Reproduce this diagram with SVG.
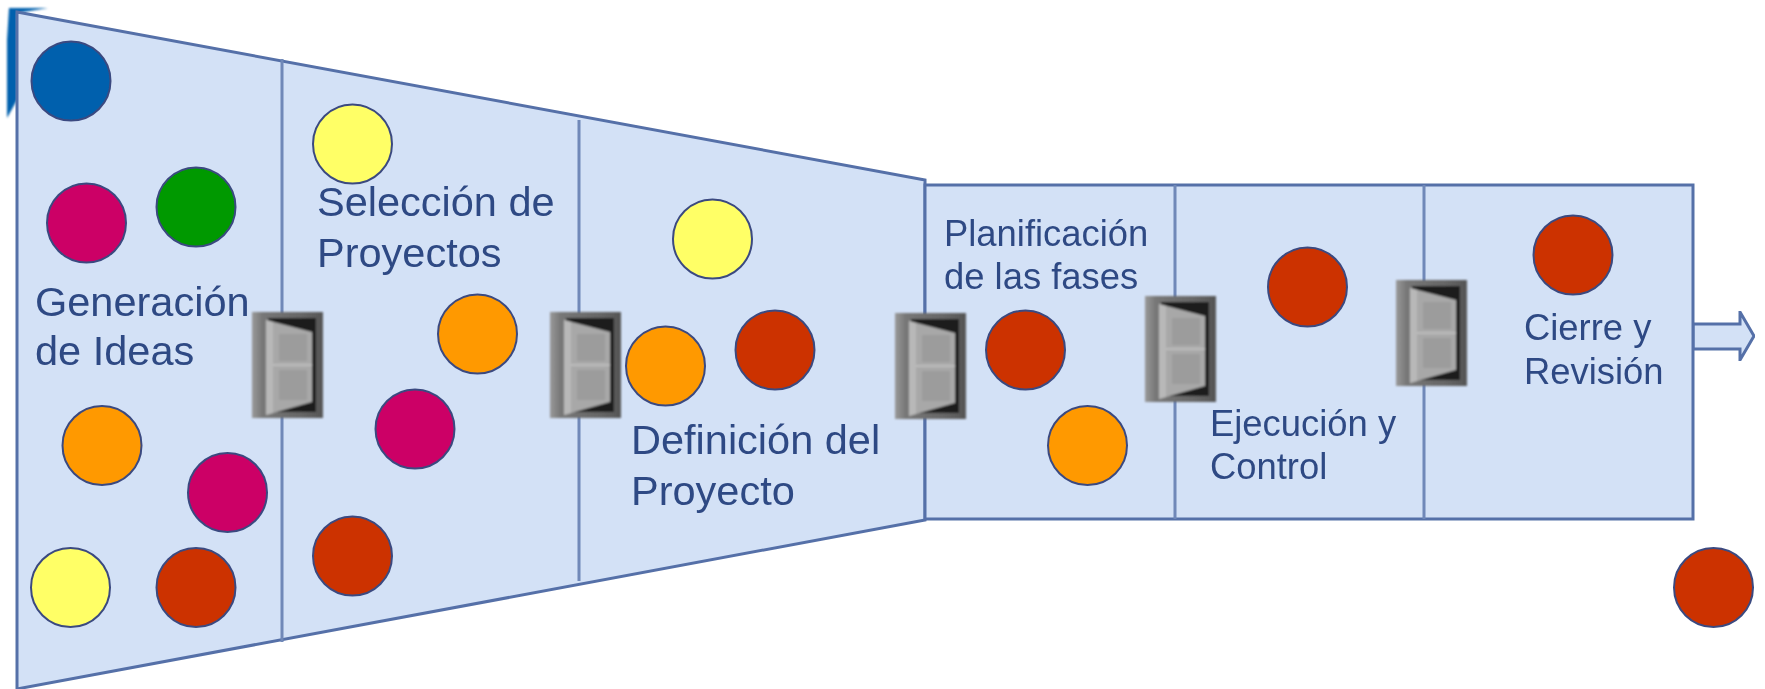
<svg xmlns="http://www.w3.org/2000/svg" width="1765" height="689" viewBox="0 0 1765 689">
<style>
.shape{fill:#d3e1f6;stroke:#5570a8;stroke-width:3}
.div{fill:none;stroke:#6f88b8;stroke-width:3}
.c{stroke:#3b4a80;stroke-width:2}
.t{font-family:"Liberation Sans",Arial,sans-serif;font-size:41.5px;fill:#2f4a84}
.t2{font-family:"Liberation Sans",Arial,sans-serif;font-size:36.4px;fill:#2f4a84}
.y{fill:#ffff66}.r{fill:#cc3300}.o{fill:#ff9900}.m{fill:#cc0066}.g{fill:#009900}.b{fill:#0060ad}
</style>
<defs>
<linearGradient id="fr" x1="0" x2="1" y1="0" y2="0"><stop offset="0" stop-color="#999"/><stop offset="0.15" stop-color="#777"/><stop offset="0.7" stop-color="#666"/><stop offset="1" stop-color="#555"/></linearGradient>
<filter id="soft" x="-5%" y="-5%" width="110%" height="110%"><feGaussianBlur stdDeviation="1.2"/></filter>
<filter id="lite" x="-1%" y="-1%" width="102%" height="102%"><feGaussianBlur stdDeviation="0.5"/></filter>
<g id="door" filter="url(#soft)">
<rect width="71" height="106" fill="url(#fr)"/>
<rect x="16" y="6" width="48" height="94" fill="#1c1c1c"/>
<path d="M14 8L60 20L60 90L14 103Z" fill="#a8a8a8"/>
<path d="M14 8L21 10L21 101L14 103Z" fill="#b8b8b8"/>
<path d="M21 53L60 53" stroke="#bdbdbd" stroke-width="2" fill="none"/>
<rect x="27" y="22" width="28" height="27" fill="#9c9c9c"/>
<rect x="27" y="58" width="28" height="30" fill="#9c9c9c"/>
</g>
</defs>
<path d="M9 8L48 8L17 13L17 100L7 118L7 40Z" fill="#0060ad" filter="url(#soft)"/>
<g id="connectors" filter="url(#lite)">
<path id="arrow" d="M1693 324H1740V312L1754 336L1740 360V349H1693Z" class="shape"/>
</g>
<g id="funnel" filter="url(#lite)">
<path d="M17 12L925 180V520L17 689Z" class="shape"/>
<path d="M925 185H1693V519H925Z" class="shape"/>
<path d="M282 59V642M579 120V581M1175 185V519M1424 185V519" class="div"/>
</g>
<g id="labels" filter="url(#lite)">
<g id="n-generacion"><text class="t" x="35" y="316">Generación</text><text class="t" x="35" y="365">de Ideas</text></g>
<g id="n-seleccion"><text class="t" x="317" y="216">Selección de</text><text class="t" x="317" y="267">Proyectos</text></g>
<g id="n-definicion"><text class="t" x="631" y="454">Definición del</text><text class="t" x="631" y="505">Proyecto</text></g>
<g id="n-planificacion"><text class="t2" x="944" y="246">Planificación</text><text class="t2" x="944" y="289">de las fases</text></g>
<g id="n-ejecucion"><text class="t2" x="1210" y="436">Ejecución y</text><text class="t2" x="1210" y="479">Control</text></g>
<g id="n-cierre"><text class="t2" x="1524" y="340">Cierre y</text><text class="t2" x="1524" y="384">Revisión</text></g>
</g>
<g id="ideas" filter="url(#lite)">
<circle id="i1" class="c b" cx="71" cy="81" r="39.5"/>
<circle id="i2" class="c m" cx="86.500" cy="223" r="39.5"/>
<circle id="i3" class="c g" cx="196" cy="207" r="39.5"/>
<circle id="i4" class="c o" cx="102" cy="445.500" r="39.5"/>
<circle id="i5" class="c m" cx="227.500" cy="492.500" r="39.5"/>
<circle id="i6" class="c y" cx="70.500" cy="587.500" r="39.5"/>
<circle id="i7" class="c r" cx="196" cy="587.500" r="39.5"/>
<circle id="i8" class="c y" cx="352.500" cy="144" r="39.5"/>
<circle id="i9" class="c o" cx="477.500" cy="334" r="39.5"/>
<circle id="i10" class="c m" cx="415" cy="429" r="39.5"/>
<circle id="i11" class="c r" cx="352.500" cy="556" r="39.5"/>
<circle id="i12" class="c y" cx="712.500" cy="239" r="39.5"/>
<circle id="i13" class="c o" cx="665.500" cy="366" r="39.5"/>
<circle id="i14" class="c r" cx="775" cy="350" r="39.5"/>
<circle id="i15" class="c r" cx="1025.500" cy="350" r="39.5"/>
<circle id="i16" class="c o" cx="1087.500" cy="445.500" r="39.5"/>
<circle id="i17" class="c r" cx="1307.500" cy="287" r="39.5"/>
<circle id="i18" class="c r" cx="1573" cy="255" r="39.5"/>
<circle id="i19" class="c r" cx="1713.500" cy="587.500" r="39.5"/>
</g>
<g id="doors">
<use id="d1" href="#door" x="252" y="312"/>
<use id="d2" href="#door" x="550" y="312"/>
<use id="d3" href="#door" x="895" y="313"/>
<use id="d4" href="#door" x="1145" y="296"/>
<use id="d5" href="#door" x="1396" y="280"/>
</g>
</svg>
